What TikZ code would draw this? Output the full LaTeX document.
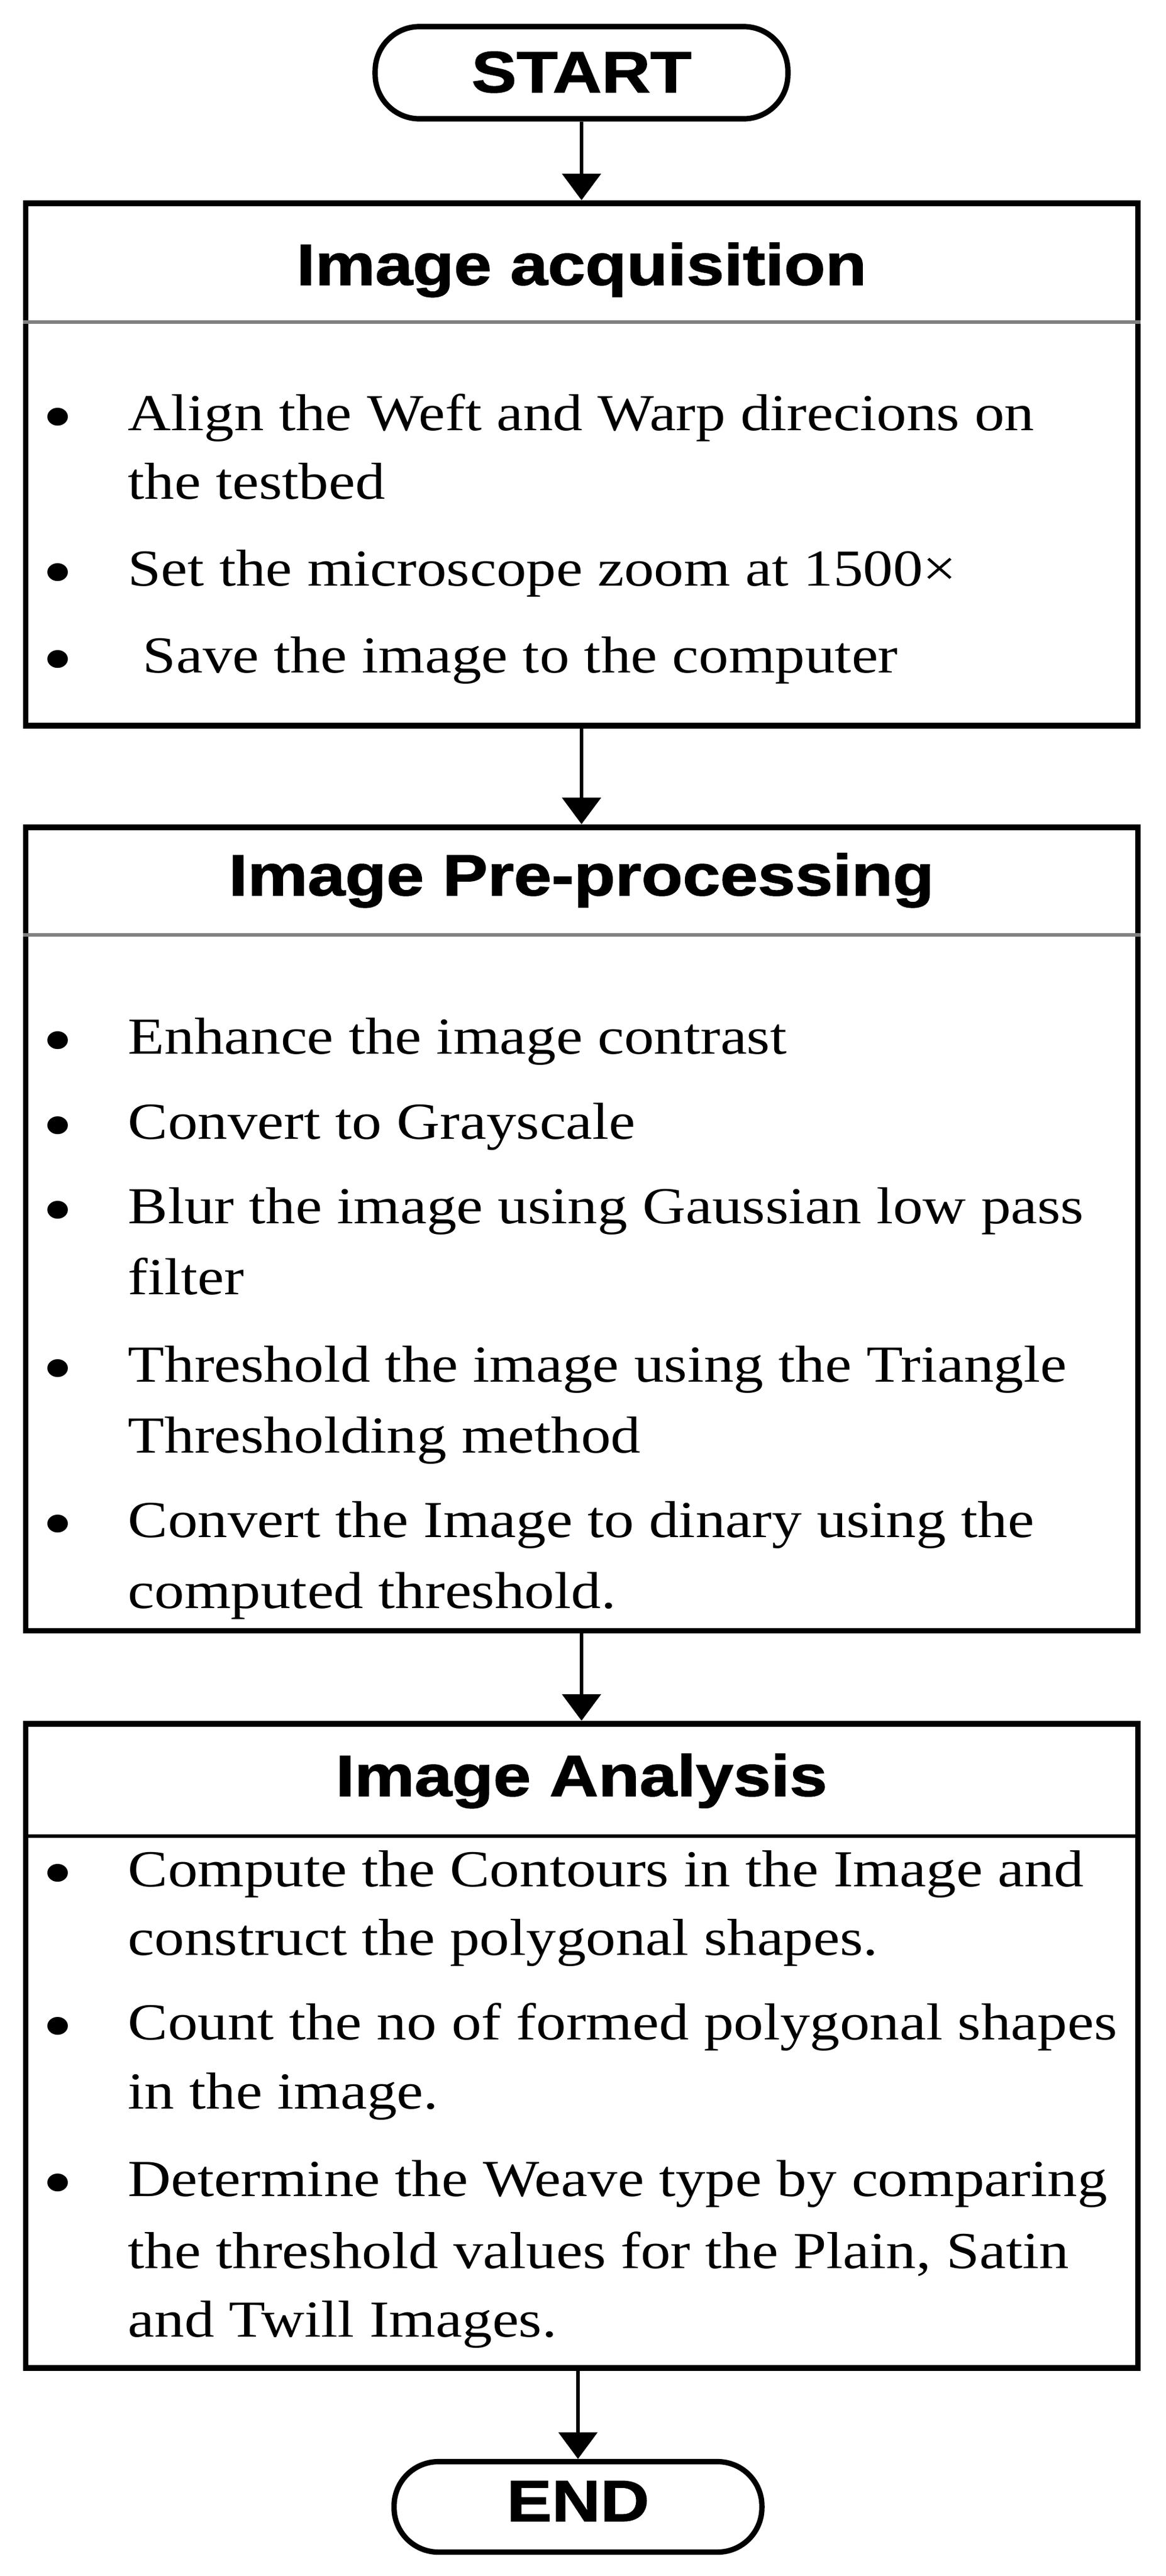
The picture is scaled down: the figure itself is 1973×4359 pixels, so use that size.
\documentclass[tikz,border=0pt]{standalone}
\usepackage{fontspec}
\setmainfont{Liberation Serif}[FakeStretch=1.15]
\newfontfamily\hdfont{Liberation Sans}[FakeStretch=1.16,FakeBold=1.5]
\usetikzlibrary{arrows.meta}
\begin{document}
\begin{tikzpicture}[x=0.01cm,y=-0.01cm,
  term/.style={draw,line width=2.6pt,rounded corners=0.75cm,inner sep=0pt},
  boxs/.style={draw,line width=2.8pt,inner sep=0pt},
  ttl/.style={anchor=base,font=\hdfont\bfseries\fontsize{28}{30}\selectfont,inner sep=0pt},
  txt/.style={anchor=base west,font=\fontsize{25}{30}\selectfont,inner sep=0pt},
  bul/.style={anchor=base,font=\fontsize{36}{30}\selectfont,inner sep=0pt,yshift=-0.14cm},
  arr/.style={line width=1.8pt,-{Triangle[length=0.45cm,width=0.65cm]}},
  sep/.style={line width=1.7pt,gray}]
\useasboundingbox (0,0) rectangle (1973,4359);
% terminals
\node[term,minimum width=6.98cm,minimum height=1.56cm] (start) at (984,123) {};
\node[ttl] (starttxt) at (984,156) {START};
\node[term,minimum width=6.22cm,minimum height=1.53cm] (end) at (978,4242) {};
\node[ttl] (endtxt) at (978,4266) {END};
% boxes
\node[boxs,minimum width=18.81cm,minimum height=8.84cm] (b1) at (984.5,786) {};
\node[boxs,minimum width=18.81cm,minimum height=13.59cm] (b2) at (984.5,2079.5) {};
\node[boxs,minimum width=18.81cm,minimum height=10.90cm] (b3) at (984.5,3462) {};
\coordinate (s1) at (0,545);
\coordinate (s2) at (0,1582);
\coordinate (s3) at (0,3107);
\draw[sep] (b1.west |- s1) -- (b1.east |- s1);
\draw[sep] (b2.west |- s2) -- (b2.east |- s2);
\draw[line width=1.7pt] (b3.west |- s3) -- (b3.east |- s3);
% titles
\node[ttl] (t1) at (984,482) {Image acquisition};
\node[ttl] (t2) at (984,1515) {Image Pre-processing};
\node[ttl] (t3) at (984,3039) {Image Analysis};
% box 1
\node[bul] (u11) at (98,733) {•};
\node[txt] (l11) at (216,728) {Align the Weft and Warp direcions on};
\node[txt] (l12) at (216,844) {the testbed};
\node[bul] (u12) at (98,996) {•};
\node[txt] (l13) at (216,991) {Set the microscope zoom at 1500×};
\node[bul] (u13) at (98,1143) {•};
\node[txt] (l14) at (216,1138) {\ Save the image to the computer};
% box 2
\node[bul] (u21) at (98,1788) {•};
\node[txt] (l21) at (216,1783) {Enhance the image contrast};
\node[bul] (u22) at (98,1932) {•};
\node[txt] (l22) at (216,1927) {Convert to Grayscale};
\node[bul] (u23) at (98,2075) {•};
\node[txt] (l23) at (216,2070) {Blur the image using Gaussian low pass};
\node[txt] (l24) at (216,2190) {filter};
\node[bul] (u24) at (98,2343) {•};
\node[txt] (l25) at (216,2338) {Threshold the image using the Triangle};
\node[txt] (l26) at (216,2458) {Thresholding method};
\node[bul] (u25) at (98,2606) {•};
\node[txt] (l27) at (216,2601) {Convert the Image to dinary using the};
\node[txt] (l28) at (216,2721) {computed threshold.};
% box 3
\node[bul] (u31) at (98,3197) {•};
\node[txt] (l31) at (216,3192) {Compute the Contours in the Image and};
\node[txt] (l32) at (216,3308) {construct the polygonal shapes.};
\node[bul] (u32) at (98,3456) {•};
\node[txt] (l33) at (216,3451) {Count the no of formed polygonal shapes};
\node[txt] (l34) at (216,3568) {in the image.};
\node[bul] (u33) at (98,3721) {•};
\node[txt] (l35) at (216,3716) {Determine the Weave type by comparing};
\node[txt] (l36) at (216,3838) {the threshold values for the Plain, Satin};
\node[txt] (l37) at (216,3954) {and Twill Images.};
% connectors
\draw[arr] (start.south) -- (b1.north -| start.south);
\draw[arr] (b1.south -| start.south) -- (b2.north -| start.south);
\draw[arr] (b2.south -| start.south) -- (b3.north -| start.south);
\draw[arr] (b3.south -| end.north) -- (end.north);
\end{tikzpicture}
\end{document}
